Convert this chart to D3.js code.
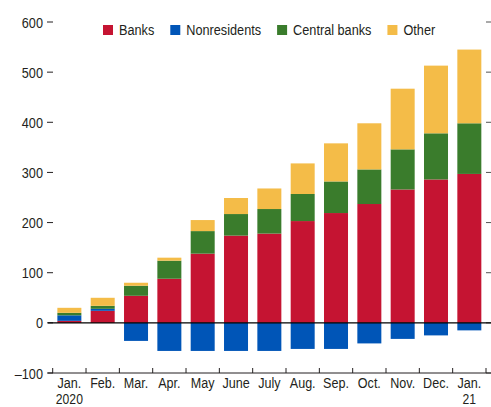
<!DOCTYPE html>
<html>
<head>
<meta charset="utf-8">
<script src="https://cdn.jsdelivr.net/npm/d3@7/dist/d3.min.js"></script>
<style>
  html, body { margin: 0; padding: 0; background: #fff; }
  svg { display: block; }
  text { font-family: "Liberation Sans", Arial, sans-serif; fill: #231f20; }
</style>
</head>
<body>
<svg id="chart" width="491" height="407"></svg>
<script>
const months = ["Jan.", "Feb.", "Mar.", "Apr.", "May", "June", "July", "Aug.", "Sep.", "Oct.", "Nov.", "Dec.", "Jan."];
const years  = ["2020", "", "", "", "", "", "", "", "", "", "", "", "21"];
const seriesNames = ["Banks", "Nonresidents", "Central banks", "Other"];
const seriesColors = ["#C51432", "#0055B7", "#3A7C2C", "#F4BC48"];
const banks        = [4, 24, 54, 88, 138, 174, 178, 203, 219, 237, 266, 286, 297];
const nonresidents = [11, 4, -36, -56, -56, -56, -56, -52, -52, -41, -32, -25, -15];
const centralBanks = [5, 6, 20, 36, 45, 43, 49, 54, 63, 69, 80, 92, 101];
const other        = [10, 16, 6, 6, 22, 32, 41, 61, 76, 92, 121, 135, 147];
const yTicks = [-100, 0, 100, 200, 300, 400, 500, 600];

(function () {
const seriesValues = [banks, nonresidents, centralBanks, other];
const rows = months.map((m, i) => {
  const r = { idx: i };
  seriesNames.forEach((s, k) => r[s] = seriesValues[k][i]);
  return r;
});

const SX = 0.82; // condensed look
const svg = d3.select("#chart");
const mLeft = 52.7, mRight = 486, mTop = 22, mBottom = 373;

const x = d3.scaleBand().domain(d3.range(months.length)).range([mLeft, mRight])
  .paddingInner(0.28).paddingOuter(0.14);
const y = d3.scaleLinear().domain([-100, 600]).range([mBottom, mTop]);
const color = d3.scaleOrdinal().domain(seriesNames).range(seriesColors);

const stack = d3.stack().keys(seriesNames).offset(d3.stackOffsetDiverging);
const stacked = stack(rows);

// bars
svg.append("g").selectAll("g").data(stacked).join("g")
  .attr("fill", d => color(d.key))
  .selectAll("rect").data(d => d).join("rect")
  .attr("x", d => x(d.data.idx))
  .attr("width", x.bandwidth())
  .attr("y", d => y(Math.max(d[0], d[1])))
  .attr("height", d => Math.abs(y(d[0]) - y(d[1])));

// left axis labels and dashes
const yl = svg.append("g");
yl.selectAll("text").data(yTicks).join("text")
  .attr("transform", d => `translate(43,${y(d)}) scale(${SX},1)`)
  .attr("dy", "0.36em")
  .attr("text-anchor", "end").style("font-size", "15.5px")
  .text(d => d < 0 ? "\u2013" + Math.abs(d) : d);
yl.selectAll("line").data(yTicks).join("line")
  .attr("x1", 47).attr("x2", 53).attr("y1", d => y(d)).attr("y2", d => y(d))
  .attr("stroke", "#231f20").attr("stroke-width", 1);

// right ticks
svg.append("g").selectAll("line").data(yTicks).join("line")
  .attr("x1", 486).attr("x2", 491).attr("y1", d => y(d)).attr("y2", d => y(d))
  .attr("stroke", "#555").attr("stroke-width", 1);

// zero line
svg.append("line").attr("x1", 48).attr("x2", 491).attr("y1", y(0)).attr("y2", y(0))
  .attr("stroke", "#000").attr("stroke-width", 1.3);

// bottom axis
svg.append("line").attr("x1", 48).attr("x2", 491).attr("y1", y(-100)).attr("y2", y(-100))
  .attr("stroke", "#231f20").attr("stroke-width", 1);
const bounds = d3.range(months.length + 1).map(i => mLeft + i * x.step());
svg.append("g").selectAll("line").data(bounds).join("line")
  .attr("x1", d => d).attr("x2", d => d).attr("y1", y(-100)).attr("y2", y(-100) - 5)
  .attr("stroke", "#231f20").attr("stroke-width", 1);

const cx = i => x(i) + x.bandwidth() / 2;
svg.append("g").selectAll("text").data(months).join("text")
  .attr("text-anchor", "middle").style("font-size", "14.8px")
  .attr("transform", (d, i) => `translate(${cx(i)},388) scale(${SX + 0.03},1)`)
  .text(d => d);
svg.append("g").selectAll("text").data(years.filter(d => d)).join("text")
  .attr("text-anchor", "middle").style("font-size", "14.3px")
  .attr("transform", d => `translate(${cx(years.indexOf(d))},403.6) scale(${SX + 0.03},1)`)
  .text(d => d);

// legend
const leg = svg.append("g");
let lx = 103;
seriesNames.forEach((s, k) => {
  leg.append("rect").attr("x", lx).attr("y", 25).attr("width", 10).attr("height", 10)
    .attr("fill", seriesColors[k]);
  const t = leg.append("text")
    .attr("transform", `translate(${lx + 16},35) scale(${SX},1)`)
    .style("font-size", "15.5px").text(s);
  lx = lx + 16 + t.node().getComputedTextLength() * SX + 16;
});
})();
</script>
</body>
</html>
